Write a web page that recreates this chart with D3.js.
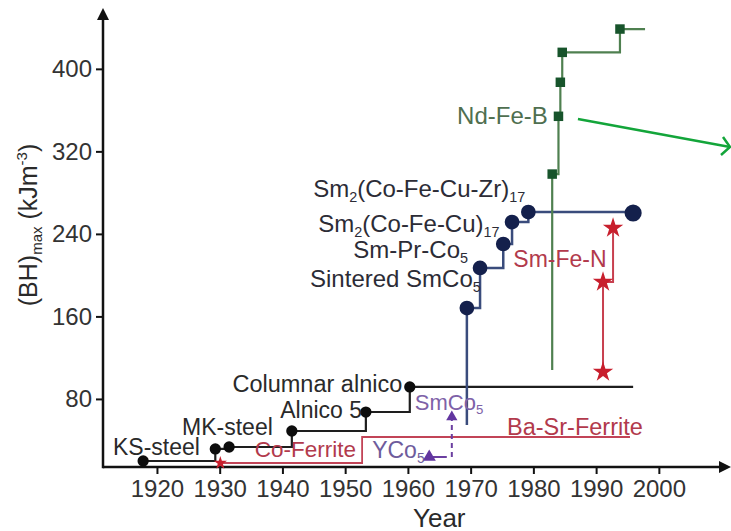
<!DOCTYPE html>
<html>
<head>
<meta charset="utf-8">
<script src="https://cdn.jsdelivr.net/npm/d3@7"></script>
<style>
  body { margin: 0; background: #fff; }
  text { font-family: "Liberation Sans", Arial, sans-serif; }
</style>
</head>
<body>
<div id="chart-area"></div>
<script>
// Tick values
var xTicks = [1920, 1930, 1940, 1950, 1960, 1970, 1980, 1990, 2000]
var yTicks = [80, 160, 240, 320, 400]

// Steels and alnico (black)
var steelYears  = [1917.8, 1929.3, 1931.5, 1941.5, 1953.3, 1960.3]
var steelValues = [19.8, 31.5, 33.4, 48.9, 67.3, 91.6]
var steelEnd = 1995.9

// SmCo family (blue)
var smcoYears  = [1969.4, 1971.5, 1975.2, 1976.6, 1979.2, 1995.9]
var smcoValues = [168.1, 207.0, 230.2, 251.5, 261.2, 260.3]
var smcoBase = 54.7

// Nd-Fe-B (green)
var ndfebYears  = [1983.0, 1984.0, 1984.3, 1984.6, 1993.8]
var ndfebValues = [298.0, 354.0, 387.0, 416.0, 438.6]
var ndfebBase = 108
var ndfebEnd = 1997.8

// Sm-Fe-N (red)
var smfenYears  = [1991.1, 1991.1, 1992.7]
var smfenValues = [106.1, 193.4, 245.7]

// Ferrites (red)
var ferriteYears  = [1930.1, 1952.7]
var ferriteValues = [17.9, 43.1]
var ferriteEnd = 1995.4

// YCo5 -> SmCo5 (purple)
var ycoYears  = [1963.4, 1967.0]
var ycoValues = [23.7, 62.5]
var ycoTail = 1966.2

// Label texts ( _{} subscript, ^{} superscript )
var labelTexts = ["KS-steel", "MK-steel", "Alnico 5", "Columnar alnico", "Co-Ferrite",
    "YCo_{5}", "SmCo_{5}", "Ba-Sr-Ferrite", "Sintered SmCo_{5}", "Sm-Pr-Co_{5}",
    "Sm_{2}(Co-Fe-Cu)_{17}", "Sm_{2}(Co-Fe-Cu-Zr)_{17}", "Sm-Fe-N", "Nd-Fe-B"]

// Label placement in data space: [year, value, anchor, color, size]
var labelLayout = [
    [1913.0, 25.6, "start", "#2a2a2a", 23],
    [1924.0, 45.0, "start", "#2a2a2a", 23],
    [1952.7, 61.5, "end", "#2a2a2a", 23],
    [1959.1, 86.7, "end", "#2a2a2a", 23.5],
    [1935.6, 23.7, "start", "#b23a4c", 22.5],
    [1954.3, 22.7, "start", "#6e5c9c", 23],
    [1961.1, 69.3, "start", "#7e62a8", 22],
    [1975.8, 45.0, "start", "#b23a4c", 23.5],
    [1944.4, 188.5, "start", "#2c2c36", 24],
    [1951.3, 216.6, "start", "#2c2c36", 24],
    [1945.7, 241.8, "start", "#2c2c36", 24],
    [1944.9, 275.8, "start", "#2c2c36", 24],
    [1976.8, 207.9, "start", "#b23a4c", 23],
    [1982.3, 346.5, "end", "#4f6f50", 24]
]

// Arrow from Nd-Fe-B
var arrowFrom = [1987.1, 351.4]
var arrowTo = [2011.5, 324.2]

var width = 731, height = 531

var svg = d3.select("#chart-area")
    .append("svg")
        .attr("width", width)
        .attr("height", height)

var x = d3.scaleLinear()
    .domain([1911.4, 2011.5])
    .range([103, 731])

var y = d3.scaleLinear()
    .domain([14, 459])
    .range([467, 8])

var step = d3.line()
    .x(d => x(d[0]))
    .y(d => y(d[1]))
    .curve(d3.curveStepAfter)

function zipPts(years, values){
    return years.map((yr, i) => [yr, values[i]])
}

// Axes
var xAxisCall = d3.axisBottom(x)
    .tickValues(xTicks)
    .tickFormat(d3.format("d"))
    .tickSize(7)
    .tickSizeOuter(0)
    .tickPadding(6)
var xg = svg.append("g")
    .attr("class", "x-axis")
    .attr("transform", "translate(0, " + y.range()[0] + ")")
    .call(xAxisCall)

var yAxisCall = d3.axisLeft(y)
    .tickValues(yTicks)
    .tickSize(7)
    .tickSizeOuter(0)
    .tickPadding(4)
var yg = svg.append("g")
    .attr("class", "y-axis")
    .attr("transform", "translate(" + x.range()[0] + ", 0)")
    .call(yAxisCall)

svg.selectAll(".x-axis .domain, .y-axis .domain").remove()
svg.selectAll(".x-axis line, .y-axis line")
    .attr("stroke", "#111")
    .attr("stroke-width", 2)
svg.selectAll(".x-axis text, .y-axis text")
    .attr("font-size", 24)
    .attr("fill", "#333")
    .attr("font-family", "Liberation Sans, Arial, sans-serif")

// Axis lines with arrow heads
var x0 = x.range()[0], xEnd = x.range()[1]
var y0 = y.range()[0], yTop = y.range()[1]
svg.append("line")
    .attr("x1", x0).attr("y1", y0)
    .attr("x2", xEnd - 8).attr("y2", y0)
    .attr("stroke", "#111").attr("stroke-width", 2.5)
svg.append("line")
    .attr("x1", x0).attr("y1", y0 + 1.2)
    .attr("x2", x0).attr("y2", yTop + 8)
    .attr("stroke", "#111").attr("stroke-width", 2.5)
svg.append("path")
    .attr("d", "M" + x0 + "," + yTop + "L" + (x0 - 6) + "," + (yTop + 12) + "L" + (x0 + 6) + "," + (yTop + 12) + "Z")
    .attr("fill", "#111")
svg.append("path")
    .attr("d", "M" + xEnd + "," + y0 + "L" + (xEnd - 12) + "," + (y0 - 6) + "L" + (xEnd - 12) + "," + (y0 + 6) + "Z")
    .attr("fill", "#111")

// Y axis label
var yLabel = svg.append("text")
    .attr("transform", "translate(37, 225) rotate(-90)")
    .attr("text-anchor", "middle")
    .attr("font-size", 25)
    .attr("fill", "#2a2a2a")
yLabel.append("tspan").text("(BH)")
yLabel.append("tspan").attr("font-size", 15).attr("dy", 5).text("max")
yLabel.append("tspan").attr("dy", -5).text(" (kJm")
yLabel.append("tspan").attr("font-size", 15).attr("dy", -10).text("-3")
yLabel.append("tspan").attr("dy", 10).text(")")

// X axis label
svg.append("text")
    .attr("x", x(1965))
    .attr("y", 527)
    .attr("text-anchor", "middle")
    .attr("font-size", 26)
    .attr("fill", "#2a2a2a")
    .text("Year")

// ---- Series lines ----
// Ferrites
svg.append("path")
    .attr("d", step(zipPts(ferriteYears, ferriteValues).concat([[ferriteEnd, ferriteValues[ferriteValues.length - 1]]])))
    .attr("fill", "none").attr("stroke", "#c24457").attr("stroke-width", 1.8)

// Steels / alnico
svg.append("path")
    .attr("d", step(zipPts(steelYears, steelValues).concat([[steelEnd, steelValues[steelValues.length - 1]]])))
    .attr("fill", "none").attr("stroke", "#1e1e1e").attr("stroke-width", 2.2)

// YCo5 -> SmCo5
svg.append("line")
    .attr("x1", x(ycoYears[0])).attr("y1", y(ycoValues[0]))
    .attr("x2", x(ycoTail)).attr("y2", y(ycoValues[0]))
    .attr("stroke", "#6b3fa0").attr("stroke-width", 2)
svg.append("line")
    .attr("x1", x(ycoYears[1])).attr("y1", y(ycoValues[0]))
    .attr("x2", x(ycoYears[1])).attr("y2", y(ycoValues[1]))
    .attr("stroke", "#6b3fa0").attr("stroke-width", 2)
    .attr("stroke-dasharray", "5,4")

// SmCo
svg.append("path")
    .attr("d", step([[smcoYears[0], smcoBase]].concat(zipPts(smcoYears, smcoValues))))
    .attr("fill", "none").attr("stroke", "#3a4c7c").attr("stroke-width", 2.5)

// Nd-Fe-B
svg.append("path")
    .attr("d", step([[ndfebYears[0], ndfebBase]].concat(zipPts(ndfebYears, ndfebValues), [[ndfebEnd, ndfebValues[ndfebValues.length - 1]]])))
    .attr("fill", "none").attr("stroke", "#4f8050").attr("stroke-width", 2.2)

// Sm-Fe-N
svg.append("path")
    .attr("d", step(zipPts(smfenYears, smfenValues)))
    .attr("fill", "none").attr("stroke", "#c8404f").attr("stroke-width", 2)

// ---- Markers ----
function addMarkers(pts, type, size, color, cls){
    svg.selectAll("path." + cls)
        .data(pts)
        .enter()
        .append("path")
        .attr("class", cls)
        .attr("transform", d => "translate(" + x(d[0]) + "," + y(d[1]) + ")")
        .attr("d", (d, i) => d3.symbol().type(type).size(typeof size === "function" ? size(d, i) : size)())
        .attr("fill", color)
}

addMarkers(zipPts(steelYears, steelValues), d3.symbolCircle, 100, "#0d0d0d", "steel")
addMarkers(zipPts(smcoYears, smcoValues), d3.symbolCircle,
    (d, i) => i === smcoYears.length - 1 ? 230 : 170, "#14204c", "smco")
addMarkers(zipPts(ndfebYears, ndfebValues), d3.symbolSquare, 90, "#17542b", "ndfeb")
addMarkers(zipPts(smfenYears, smfenValues), d3.symbolStar, 130, "#c81f2d", "smfen")
addMarkers([[ferriteYears[0], ferriteValues[0]]], d3.symbolStar, 55, "#c81f2d", "ferrite")
addMarkers([[ycoYears[0], ycoValues[0]]], d3.symbolTriangle, 75, "#6236a0", "yco")
addMarkers([[ycoYears[1], ycoValues[1]]], d3.symbolTriangle, 55, "#6236a0", "smco5")

// ---- Labels ----
function addLabel(str, pos){
    var t = svg.append("text")
        .attr("x", x(pos[0]))
        .attr("y", y(pos[1]))
        .attr("text-anchor", pos[2])
        .attr("fill", pos[3])
        .attr("font-size", pos[4])
    var re = /([_^])\{([^}]*)\}|([^_^]+)/g, m, shift = 0
    var sub = Math.round(pos[4] * 0.2)
    while ((m = re.exec(str)) !== null){
        if (m[3]){
            t.append("tspan").attr("dy", -shift).text(m[3])
            shift = 0
        } else {
            var s = m[1] === "_" ? sub : -sub * 2
            t.append("tspan")
                .attr("dy", s - shift)
                .attr("font-size", pos[4] * 0.6)
                .text(m[2])
            shift = s
        }
    }
}

labelTexts.forEach((s, i) => addLabel(s, labelLayout[i]))

// Green arrow pointing at Nd-Fe-B
var ax1 = x(arrowFrom[0]), ay1 = y(arrowFrom[1])
var ax2 = x(arrowTo[0]) - 1, ay2 = y(arrowTo[1])
svg.append("line")
    .attr("x1", ax1).attr("y1", ay1)
    .attr("x2", ax2).attr("y2", ay2)
    .attr("stroke", "#13a53a").attr("stroke-width", 2.5)
svg.append("path")
    .attr("d", "M" + (ax2 - 7) + "," + (ay2 - 10) + "L" + ax2 + "," + ay2 + "L" + (ax2 - 9) + "," + (ay2 + 8))
    .attr("fill", "none")
    .attr("stroke", "#13a53a").attr("stroke-width", 2.5)
</script>
</body>
</html>
